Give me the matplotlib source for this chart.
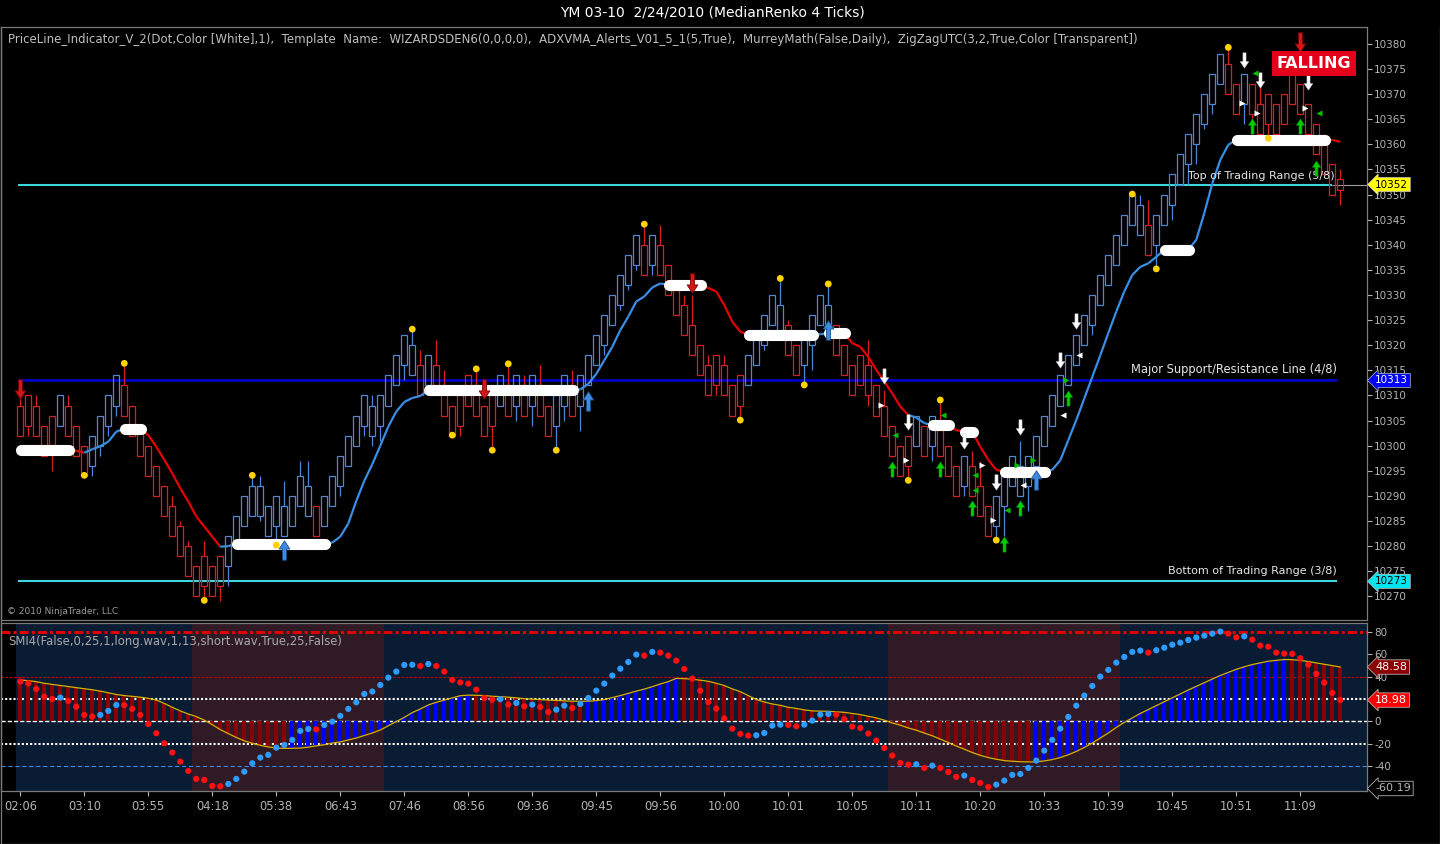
import numpy as np
import matplotlib
matplotlib.use('Agg')
import matplotlib.pyplot as plt
from matplotlib.path import Path
from matplotlib.collections import LineCollection
from matplotlib.lines import Line2D

plt.rcParams['font.family'] = ['DejaVu Sans']
plt.rcParams['lines.scale_dashes'] = False

# ---- renko bars (YM 03-10, median renko 4 ticks) ----
opens = [10308, 10310, 10308, 10304, 10306, 10304, 10308, 10304, 10300, 10296,
         10300, 10304, 10308, 10312, 10308, 10304, 10300, 10296, 10292, 10288,
         10284, 10280, 10276, 10278, 10276, 10278, 10276, 10280, 10284, 10286,
         10286, 10282, 10284, 10282, 10284, 10288, 10286, 10288, 10284, 10288,
         10292, 10296, 10300, 10304, 10302, 10304, 10308, 10312, 10316, 10314,
         10316, 10312, 10316, 10312, 10308, 10310, 10314, 10312, 10308, 10310,
         10308, 10312, 10308, 10312, 10308, 10312, 10308, 10304, 10308, 10312,
         10308, 10312, 10316, 10320, 10324, 10328, 10332, 10336, 10340, 10336,
         10340, 10336, 10332, 10328, 10324, 10320, 10316, 10318, 10316, 10312,
         10314, 10312, 10316, 10320, 10324, 10322, 10324, 10320, 10316, 10320,
         10324, 10322, 10324, 10320, 10316, 10318, 10316, 10312, 10308, 10304,
         10300, 10302, 10300, 10304, 10300, 10304, 10300, 10296, 10292, 10296,
         10292, 10288, 10284, 10288, 10292, 10290, 10292, 10296, 10300, 10304,
         10308, 10312, 10316, 10320, 10324, 10328, 10332, 10336, 10340, 10344,
         10342, 10344, 10340, 10344, 10348, 10352, 10356, 10360, 10364, 10368,
         10372, 10376, 10372, 10368, 10372, 10368, 10370, 10368, 10370, 10374,
         10372, 10368, 10364, 10360, 10356, 10353]
closes = [10302, 10304, 10302, 10298, 10300, 10310, 10302, 10298, 10294, 10302,
          10306, 10310, 10314, 10306, 10302, 10298, 10294, 10290, 10286, 10282,
          10278, 10274, 10270, 10272, 10270, 10272, 10282, 10286, 10290, 10292,
          10292, 10288, 10290, 10288, 10290, 10294, 10292, 10282, 10290, 10294,
          10298, 10302, 10306, 10310, 10308, 10310, 10314, 10318, 10322, 10320,
          10310, 10318, 10310, 10306, 10302, 10304, 10308, 10306, 10302, 10304,
          10314, 10306, 10314, 10306, 10314, 10306, 10302, 10310, 10314, 10306,
          10314, 10318, 10322, 10326, 10330, 10334, 10338, 10342, 10334, 10342,
          10334, 10330, 10326, 10322, 10318, 10314, 10310, 10312, 10310, 10306,
          10308, 10318, 10322, 10326, 10330, 10328, 10318, 10314, 10322, 10326,
          10330, 10328, 10318, 10314, 10310, 10312, 10310, 10306, 10302, 10298,
          10294, 10296, 10306, 10298, 10306, 10298, 10294, 10290, 10298, 10290,
          10286, 10282, 10290, 10294, 10298, 10296, 10298, 10302, 10306, 10310,
          10314, 10318, 10322, 10326, 10330, 10334, 10338, 10342, 10346, 10350,
          10348, 10338, 10346, 10350, 10354, 10358, 10362, 10366, 10370, 10374,
          10378, 10370, 10366, 10374, 10366, 10362, 10364, 10362, 10364, 10368,
          10366, 10362, 10358, 10354, 10350, 10351]
highs = [10310, 10310, 10310, 10304, 10306, 10310, 10310, 10304, 10300, 10302,
         10306, 10310, 10314, 10316.4, 10308, 10304, 10300, 10296, 10292, 10290,
         10285, 10281, 10276, 10281, 10276, 10278, 10282, 10286, 10290, 10294,
         10294, 10288, 10290, 10293, 10290, 10297, 10297, 10288, 10290, 10294,
         10298, 10302, 10306, 10310, 10310, 10310, 10314, 10318, 10322, 10323.2,
         10319, 10318, 10321, 10315, 10308, 10310, 10314, 10315.3, 10308, 10310,
         10314, 10316.3, 10314, 10314, 10314, 10316, 10308, 10310, 10314, 10315,
         10314, 10318, 10322, 10326, 10330, 10334, 10338, 10342, 10344.1, 10342,
         10344, 10336, 10332, 10330, 10330, 10320, 10318, 10318, 10318, 10312,
         10314, 10318, 10322, 10326, 10330, 10333.3, 10325, 10320, 10322, 10326,
         10330, 10332.2, 10324, 10320, 10316, 10318, 10321, 10312, 10311, 10304,
         10300, 10302, 10306, 10304, 10306, 10309.1, 10300, 10296, 10298, 10299,
         10297, 10288, 10290, 10294, 10298, 10301, 10298, 10302, 10306, 10310,
         10314, 10318, 10322, 10326, 10330, 10334, 10338, 10342, 10346, 10350.5,
         10350, 10349, 10346, 10350, 10354, 10358, 10362, 10366, 10370, 10374,
         10378, 10379.3, 10372, 10374, 10372, 10372, 10370, 10368, 10370, 10377,
         10372, 10368, 10364, 10362, 10356, 10355]
lows = [10302, 10302, 10302, 10298, 10295, 10304, 10302, 10298, 10294, 10294,
        10298, 10302, 10306, 10306, 10302, 10298, 10294, 10290, 10286, 10282,
        10278, 10274, 10270, 10269.5, 10270, 10269, 10272, 10280, 10284, 10286,
        10285, 10282, 10280, 10282, 10284, 10288, 10286, 10282, 10284, 10288,
        10290, 10296, 10300, 10302, 10300, 10301, 10308, 10312, 10313, 10314,
        10310, 10312, 10310, 10306, 10302, 10302, 10308, 10306, 10302, 10299,
        10308, 10306, 10305, 10306, 10304, 10306, 10302, 10299, 10305, 10306,
        10303, 10312, 10316, 10318, 10324, 10327, 10331, 10335, 10334, 10334,
        10334, 10330, 10326, 10322, 10318, 10314, 10310, 10310, 10310, 10306,
        10305.1, 10312, 10316, 10319, 10324, 10322, 10318, 10314, 10312.1, 10315,
        10324, 10322, 10318, 10314, 10310, 10312, 10308, 10306, 10302, 10298,
        10294, 10293.1, 10300, 10298, 10297, 10298, 10294, 10290, 10290, 10290,
        10286, 10282, 10281.2, 10282, 10292, 10290, 10287, 10296, 10300, 10304,
        10308, 10312, 10316, 10320, 10322, 10328, 10332, 10336, 10340, 10344,
        10342, 10338, 10335.2, 10344, 10345, 10352, 10352, 10356, 10363, 10366,
        10372, 10370, 10366, 10364, 10362, 10362, 10361.2, 10362, 10364, 10368,
        10366, 10362, 10358, 10354, 10350, 10348]

# ADXVMA line and its state (u = rising, d = falling, f = flat)
adxvma = [10299.1, 10299.1, 10299.1, 10299.1, 10299.1, 10299.1, 10299.1, 10299.0, 10298.6, 10299.3,
          10299.9, 10300.8, 10302.8, 10303.4, 10303.3, 10303.3, 10302.1, 10299.8, 10297.2, 10294.5,
          10291.5, 10288.9, 10285.9, 10283.9, 10281.9, 10279.9, 10280.0, 10280.5, 10280.5, 10280.5,
          10280.5, 10280.5, 10280.5, 10280.5, 10280.5, 10280.5, 10280.5, 10280.5, 10280.5, 10280.7,
          10281.9, 10284.5, 10289.0, 10293.0, 10296.3, 10300.0, 10303.8, 10306.8, 10308.7, 10309.5,
          10309.9, 10311.0, 10311.0, 10311.0, 10311.0, 10311.0, 10311.0, 10311.0, 10311.0, 10311.0,
          10311.0, 10311.0, 10311.0, 10311.0, 10311.0, 10311.0, 10311.0, 10311.0, 10311.0, 10311.0,
          10311.2, 10312.3, 10314.3, 10317.0, 10319.7, 10323.0, 10325.7, 10328.7, 10329.7, 10331.5,
          10332.3, 10332.0, 10332.0, 10332.0, 10332.0, 10332.0, 10331.4, 10330.7, 10328.0, 10324.7,
          10322.7, 10322.1, 10322.1, 10322.1, 10322.1, 10322.1, 10322.1, 10322.1, 10322.1, 10322.1,
          10322.2, 10322.4, 10322.4, 10322.4, 10320.4, 10319.7, 10317.7, 10315.1, 10312.8, 10310.4,
          10307.8, 10306.1, 10305.6, 10304.5, 10304.1, 10304.1, 10304.1, 10303.1, 10302.8, 10302.8,
          10299.8, 10297.2, 10295.2, 10294.8, 10294.8, 10294.8, 10294.8, 10294.8, 10294.8, 10295.2,
          10297.1, 10301.1, 10305.1, 10309.4, 10313.7, 10318.0, 10322.4, 10326.7, 10330.7, 10334.0,
          10335.6, 10336.3, 10337.6, 10339.0, 10339.0, 10339.0, 10339.0, 10341.0, 10346.3, 10352.2,
          10356.9, 10359.9, 10360.9, 10360.9, 10360.9, 10360.9, 10360.9, 10360.9, 10360.9, 10360.9,
          10360.9, 10360.9, 10360.9, 10360.9, 10360.9, 10360.5]
adx_state = ("fffffff" "dd" "uuuu" "fff" "dddddddddd" "u" "ffffffffffff" "uuuuuuuuuuuu"
             "fffffffffffffffffff" "uuuuuuuuuuu" "fffff" "ddddd" "fffffffff" "u" "fff"
             "dddddddd" "uu" "fff" "d" "ff" "ddd" "ffffff" "uuuuuuuuuuuuuu" "ffff" "uuuuu"
             "ffffffffffff" "dd")

# zigzag swing points (bar, price)
swing_bar = [8, 13, 23, 29, 32, 49, 54, 57, 59, 61, 67, 78, 90, 95, 98, 101, 111, 115, 122, 139, 142, 151, 156]
swing_px = [10294.1, 10316.4, 10269.2, 10294.1, 10280.2, 10323.2, 10302.1, 10315.3, 10299.1, 10316.3,
            10299.1, 10344.1, 10305.1, 10333.3, 10312.1, 10332.2, 10293.1, 10309.1, 10281.2, 10350.1,
            10335.2, 10379.3, 10361.2]

# alert arrows (bar, price)
red_dn_bar = [0, 58, 84, 160]
red_dn_px = [10311.3, 10311.3, 10332.4, 10380.3]
blue_up_bar = [33, 71, 101, 127]
blue_up_px = [10279.2, 10308.9, 10323.0, 10293.1]
white_dn_bar = [108, 111, 118, 122, 125, 130, 132, 153, 155, 161]
white_dn_px = [10313.8, 10304.8, 10301.0, 10292.8, 10303.8, 10317.0, 10324.9, 10376.8, 10372.8, 10372.4]
green_up_bar = [109, 115, 119, 123, 125, 131, 154, 160, 162]
green_up_px = [10295.4, 10295.4, 10287.5, 10280.5, 10287.5, 10309.4, 10363.6, 10363.6, 10355.2]
white_rt_bar = [107.55, 110.7, 120.2, 121.6, 152.7, 154.6, 160.6]
white_rt_px = [10308.1, 10297.1, 10296.1, 10285.2, 10368.2, 10366.2, 10367.2]
green_lt_bar = [109.3, 115.4, 119.3, 119.3, 123.3, 154.3, 162.4]
green_lt_px = [10302.1, 10306.1, 10294.1, 10291.2, 10287.2, 10374.2, 10366.2]
green_rt_bar = [124.6, 126.6, 130.7]
green_rt_px = [10296.1, 10297.1, 10313.1]
white_lt_bar = [125.4, 130.4, 132.4]
white_lt_px = [10292.2, 10306.1, 10318.1]

# Murrey math levels
mm_top, mm_mid, mm_bot = 10352, 10313, 10273

# SMI panel
smi = [35.5, 34, 29, 22, 20, 21.2, 18.2, 13.1, 5.7, 4.2,
       5.7, 9.3, 14.6, 14.4, 11.1, 5.7, -2.4, -10.7, -19.7, -28,
       -36.1, -44.5, -51.6, -52.5, -57.9, -58.2, -56.1, -51.6, -45.1, -37.6,
       -32.5, -30.1, -23.6, -21.2, -16.7, -8.6, -6.9, -7.2, -3.3, -0.3,
       4.8, 11.1, 17, 24.5, 26.6, 32.5, 39.1, 44.5, 50.4, 50.6,
       49.5, 51.3, 49.5, 44.5, 37, 34.8, 33.7, 28.3, 20.9, 19.4,
       19.8, 14.9, 16.4, 13.4, 14.9, 12.8, 8.3, 10.4, 14, 11.9,
       15.5, 20.9, 27.4, 33.7, 40.9, 47.1, 53.1, 59.7, 58.8, 62.1,
       61.5, 58.8, 54.3, 46.8, 38.2, 27.4, 17.3, 11.3, 2.4, -6.6,
       -11.3, -12.8, -12.5, -10.5, -3.9, -3.0, -3.3, -4.5, -3.0, 0.6,
       6, 6.6, 6, 1.8, -4.8, -6, -11, -17.3, -23.9, -30.7,
       -37.3, -38.8, -38.5, -41.8, -39.7, -41.8, -45.4, -49.8, -48.6, -52.5,
       -55.2, -58.8, -56.7, -53.1, -48, -47.2, -41.8, -35.2, -26.3, -16.7,
       -6.6, 3.9, 14, 23, 31.6, 40, 46, 52.5, 57.6, 62.1,
       63.3, 61.5, 63.6, 65.9, 68.6, 70.4, 72.8, 74.9, 76.7, 78.5,
       80.3, 78.5, 75.2, 76.1, 73.1, 67.7, 66.8, 61.5, 60.6, 60.4,
       56.4, 50.7, 42.4, 34.6, 25.4, 19.0]
smi_avg = [37, 36.3, 35.5, 34, 33, 32, 31, 30.1, 29.2, 28.2,
           27, 25.5, 24, 23, 22.3, 21.6, 20.5, 19, 16, 12.5,
           9.3, 6.5, 4.2, 1, -3, -7.5, -11, -14.5, -17.5, -19.7,
           -21.5, -23, -24, -24.3, -24.2, -24, -23.2, -22, -21, -19.5,
           -18.5, -16.7, -15, -12.8, -10.5, -7.8, -4, -0.3, 3.5, 7.8,
           11, 14.6, 17, 19, 21, 22.9, 23.4, 23.3, 23.0, 22.4,
           22, 21.6, 21, 20.2, 19.8, 19.4, 19, 18.7, 18.3, 18,
           17.9, 18.0, 18.5, 19.4, 21.2, 23, 25, 27, 28.8, 31,
           33.4, 35.5, 38.4, 38.2, 37.6, 36.8, 35.8, 34, 32, 29,
           26.5, 23, 19.5, 17.3, 15.5, 14.3, 12.5, 11.5, 10.2, 9.3,
           9.1, 8.9, 8.5, 8.0, 7, 6, 4.5, 3, 1, -1.5,
           -3.5, -6, -8, -10.5, -13, -16, -19, -22.2, -25, -28,
           -30.5, -32.5, -34, -35.2, -35.8, -36.2, -36.4, -36.3, -35.5, -34.3,
           -32.5, -30, -27, -23.5, -19.5, -15, -10.5, -5.5, -1, 3,
           7, 10.5, 14, 17.5, 21, 24.5, 28, 31.3, 34.5, 37.8,
           41, 43.8, 46.5, 48.8, 50.8, 52.3, 53.8, 54.6, 55.3, 55.2,
           54.5, 53.5, 52.3, 51, 49.8, 48.6]
# background zones of the SMI panel (bar range)
zones = [(-0.54, 21.5, 'navy'), (21.5, 45.5, 'maroon'), (45.5, 108.5, 'navy'),
         (108.5, 137.5, 'maroon'), (137.5, 168.4, 'navy')]

time_labels = ['02:06', '03:10', '03:55', '04:18', '05:38', '06:43', '07:46', '08:56', '09:36', '09:45',
               '09:56', '10:00', '10:01', '10:05', '10:11', '10:20', '10:33', '10:39', '10:45', '10:51', '11:09']

# ---- colours ----
RED = '#D42020'
BLUE = '#4F86D6'
LINE_BLUE = '#3A8EE6'
LINE_RED = '#E80000'
GRAY = '#B4B4B4'
CYAN = '#3ED6DE'
NAVY = '#0A1B34'
MAROON = '#2F1A25'

W, H = 1440, 844
fig = plt.figure(figsize=(14.4, 8.44), dpi=100, facecolor='black')
ax = fig.add_axes([1 / W, 1 - 620 / H, 1366 / W, (620 - 27.3) / H], facecolor='black')
ax2 = fig.add_axes([1 / W, 1 - 791.3 / H, 1366 / W, (791.3 - 623) / H], facecolor='black')

n = len(closes)
x = np.arange(n)
o = np.array(opens, float)
c = np.array(closes, float)
hi = np.array(highs, float)
lo = np.array(lows, float)
top = np.maximum(o, c)
bot = np.minimum(o, c)
cols = np.where(c > o, BLUE, RED)

# candles
ax.vlines(x, top, hi, colors=cols, lw=0.9, zorder=3)
ax.vlines(x, lo, bot, colors=cols, lw=0.9, zorder=3)
ax.bar(x, top - bot, bottom=bot, width=0.8, facecolor='none', edgecolor=cols, linewidth=0.9, zorder=3)

# murrey math lines
ax.hlines(mm_top, -0.3, 164, color=CYAN, lw=1.5, zorder=2)
ax.hlines(mm_top, 164, 168.4, color='#9A9A9A', lw=0.8, zorder=2)
ax.hlines(mm_mid, -0.3, 164.6, color='#0000CD', lw=1.9, zorder=2)
ax.hlines(mm_bot, -0.3, 164.6, color=CYAN, lw=1.5, zorder=2)
ax.text(164.3, 10353.7, 'Top of Trading Range (5/8)', color='#E6E6E6', fontsize=8, ha='right', va='center', zorder=6)
ax.text(164.6, 10315.1, 'Major Support/Resistance Line (4/8)', color='#E6E6E6', fontsize=8.3, ha='right', va='center', zorder=6)
ax.text(164.6, 10275.0, 'Bottom of Trading Range (3/8)', color='#E6E6E6', fontsize=8, ha='right', va='center', zorder=6)

# adxvma line
adx = np.array(adxvma)
segs, seg_cols = [], []
for i in range(1, n):
    s = adx_state[i] if adx_state[i] != 'f' else adx_state[i - 1]
    segs.append([(i - 1, adx[i - 1]), (i, adx[i])])
    seg_cols.append({'u': LINE_BLUE, 'd': LINE_RED, 'f': 'white'}[s])
ax.add_collection(LineCollection(segs, colors=seg_cols, linewidths=1.6, zorder=4))

# flat periods drawn as a white band of dots
i = 0
while i < n:
    if adx_state[i] == 'f':
        j = i
        while j + 1 < n and adx_state[j + 1] == 'f':
            j += 1
        lvl = adx[i:j + 1].mean()
        ax.plot([i + 0.1, j + 0.1], [lvl, lvl], color='white', lw=8, solid_capstyle='round', zorder=5)
        i = j + 1
    else:
        i += 1

# swing dots
ax.scatter(swing_bar, swing_px, s=24, c='#FFD200', edgecolors='none', zorder=6)

# arrow markers
dn = Path([(-0.2, 1), (0.2, 1), (0.2, -0.15), (0.55, -0.15), (0, -1), (-0.55, -0.15), (-0.2, -0.15), (-0.2, 1)],
          [Path.MOVETO] + [Path.LINETO] * 6 + [Path.CLOSEPOLY])
up = Path([(-0.2, -1), (0.2, -1), (0.2, 0.15), (0.55, 0.15), (0, 1), (-0.55, 0.15), (-0.2, 0.15), (-0.2, -1)],
          [Path.MOVETO] + [Path.LINETO] * 6 + [Path.CLOSEPOLY])
ax.plot(red_dn_bar, red_dn_px, ls='none', marker=dn, ms=14, mfc='#D01818', mec='#7A0000', mew=0.6, zorder=7)
ax.plot(blue_up_bar, blue_up_px, ls='none', marker=up, ms=14, mfc='#3C8BE0', mec='#1E4E8A', mew=0.6, zorder=7)
ax.plot(white_dn_bar, white_dn_px, ls='none', marker=dn, ms=11, mfc='white', mec='#C8C8C8', mew=0.4, zorder=7)
ax.plot(green_up_bar, green_up_px, ls='none', marker=up, ms=11, mfc='#00D000', mec='#008000', mew=0.4, zorder=7)
ax.plot(white_rt_bar, white_rt_px, ls='none', marker='>', ms=4.5, mfc='white', mec='none', zorder=7)
ax.plot(white_lt_bar, white_lt_px, ls='none', marker='<', ms=4.5, mfc='white', mec='none', zorder=7)
ax.plot(green_lt_bar, green_lt_px, ls='none', marker='<', ms=4.5, mfc='#00C000', mec='none', zorder=7)
ax.plot(green_rt_bar, green_rt_px, ls='none', marker='>', ms=4.5, mfc='#00C000', mec='none', zorder=7)

# FALLING label
ax.text(161.7, 10376.1, 'FALLING', color='white', fontsize=11.5, fontweight='bold', ha='center', va='center',
        bbox=dict(boxstyle='square,pad=0.3', fc='#E4001A', ec='none'), zorder=8)

ax.set_xlim(-2.41, 168.34)
ax.set_ylim(10265.3, 10383.3)
ax.set_xticks([])
ax.yaxis.tick_right()
ax.set_yticks(range(10270, 10381, 5))
ax.tick_params(axis='y', colors=GRAY, labelcolor=GRAY, length=3.6, width=0.8, labelsize=7.5, pad=1.5)

# price tags
for val, fc, tc in [(mm_top, '#FFFF00', 'black'), (mm_mid, '#0000FF', 'white'), (mm_bot, '#00E5F0', 'black')]:
    ax.text(1.006, val, str(val), transform=ax.get_yaxis_transform(), color=tc, fontsize=7.5,
            ha='left', va='center', bbox=dict(boxstyle='larrow,pad=0.2', fc=fc, ec='#C0C0C0', lw=0.5), zorder=9,
            clip_on=False)

# ---- SMI panel ----
for a, b, z in zones:
    ax2.axvspan(a, b, color=NAVY if z == 'navy' else MAROON, lw=0, zorder=0)
ax2.axhline(80, color='#E00000', lw=2.2, ls=(0, (6.5, 2.2, 2.2, 2.2)), zorder=1)
ax2.axhline(40, color='#C00000', lw=0.8, ls=(0, (2, 1)), zorder=1)
ax2.axhline(20, color='white', lw=1.5, ls=(0, (1.5, 1.5)), zorder=1)
ax2.axhline(0, color='white', lw=1.0, ls=(0, (3, 1.5)), zorder=1)
ax2.axhline(-20, color='white', lw=1.5, ls=(0, (1.5, 1.5)), zorder=1)
ax2.axhline(-40, color='#3C8CE6', lw=0.8, ls=(0, (3, 2)), zorder=1)

avg = np.array(smi_avg)
hist_cols = ['#8B0000'] + ['#0000FF' if avg[i] > avg[i - 1] else '#8B0000' for i in range(1, n)]
ax2.bar(x, avg, width=0.5, color=hist_cols, zorder=2)
ax2.plot(x, avg, color='#D8B000', lw=0.9, zorder=3)
sv = np.array(smi)
dot_cols = ['#FF1010'] + ['#2E9BFF' if sv[i] > sv[i - 1] else '#FF1010' for i in range(1, n)]
ax2.scatter(x, sv, s=20, c=dot_cols, edgecolors='none', zorder=4)

ax2.set_xlim(-2.41, 168.34)
ax2.set_ylim(-62.7, 88.0)
ax2.yaxis.tick_right()
smi_ticks = [-60, -40, -20, 0, 20, 40, 60, 80]
ax2.set_yticks(smi_ticks)
# labels hidden behind the value tags in the reference are left blank
ax2.set_yticklabels(['' if t in (-60, 20) else str(t) for t in smi_ticks])
ax2.tick_params(axis='y', colors=GRAY, labelcolor=GRAY, length=3.6, width=0.8, labelsize=7.5, pad=1.5)
ax2.set_xticks(range(0, 161, 8))
ax2.set_xticklabels(time_labels)
ax2.tick_params(axis='x', colors=GRAY, labelcolor=GRAY, length=3.6, width=0.8, labelsize=8.3, pad=3)

for val, txt, fc, tc in [(48.58, '48.58', '#8B0000', 'white'), (18.98, '18.98', '#FF0000', 'white'),
                         (-60.19, '-60.19', 'black', GRAY)]:
    ax2.text(1.006, val, txt, transform=ax2.get_yaxis_transform(), color=tc, fontsize=8,
             ha='left', va='center', bbox=dict(boxstyle='larrow,pad=0.2', fc=fc, ec='#B0B0B0', lw=0.6),
             zorder=9, clip_on=False)

for a in (ax, ax2):
    for sp in a.spines.values():
        sp.set_color('#7A7A7A')
        sp.set_linewidth(0.9)

# texts
fig.text(712 / W, 1 - 13 / H, 'YM 03-10  2/24/2010 (MedianRenko 4 Ticks)', color='white', fontsize=10,
         ha='center', va='center')
fig.text(8 / W, 1 - 40 / H,
         'PriceLine_Indicator_V_2(Dot,Color [White],1),  Template  Name:  WIZARDSDEN6(0,0,0,0),  '
         'ADXVMA_Alerts_V01_5_1(5,True),  MurreyMath(False,Daily),  ZigZagUTC(3,2,True,Color [Transparent])',
         color='#BEBEBE', fontsize=8.5, ha='left', va='center')
fig.text(7 / W, 1 - 612 / H, '\u00a9 2010 NinjaTrader, LLC', color='#9A9A9A', fontsize=6.5, ha='left', va='center')
fig.text(8 / W, 1 - 641 / H, 'SMI4(False,0,25,1,long.wav,1,13,short.wav,True,25,False)', color='#A8A8A8',
         fontsize=8.4, ha='left', va='center')

# outer frame
for xs, ys in [([0.5, 0.5], [27, 843.5]), ([0.5, 1439.5], [843.5, 843.5]), ([1439.5, 1439.5], [27, 843.5])]:
    fig.add_artist(Line2D([v / W for v in xs], [1 - v / H for v in ys], color='#7A7A7A', lw=0.9))

fig.savefig('out.png', dpi=100, facecolor='black')
